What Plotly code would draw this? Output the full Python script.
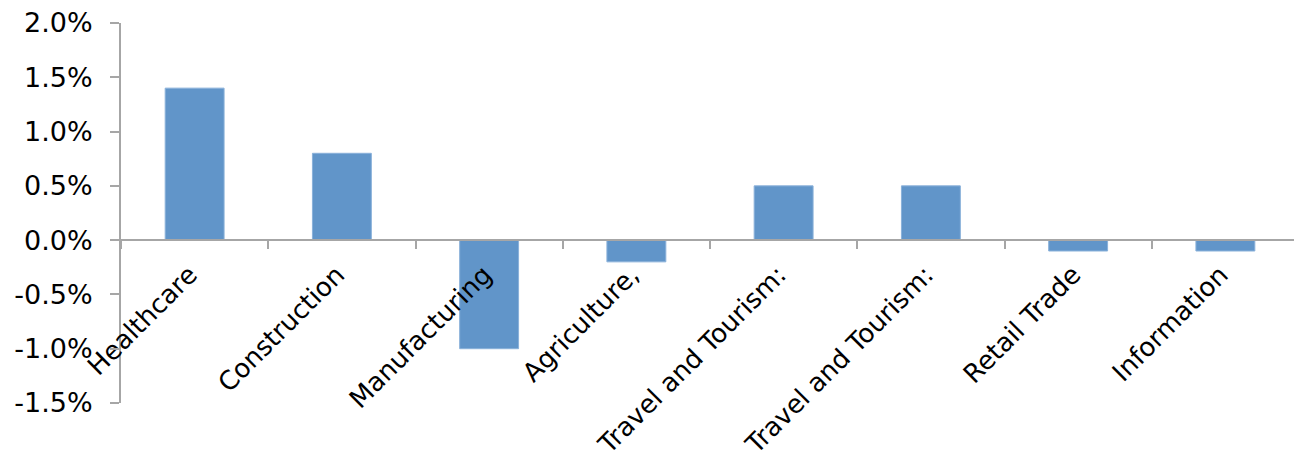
import plotly.graph_objects as go

categories = ["Healthcare", "Construction", "Manufacturing", "Agriculture,",
              "Travel and Tourism:", "Travel and Tourism:", "Retail Trade", "Information"]
values = [1.4, 0.8, -1.0, -0.2, 0.5, 0.5, -0.1, -0.1]
y_ticks = [-1.5, -1.0, -0.5, 0.0, 0.5, 1.0, 1.5, 2.0]
y_tick_labels = ["-1.5%", "-1.0%", "-0.5%", "0.0%", "0.5%", "1.0%", "1.5%", "2.0%"]

keys = [f"c{i}" for i in range(len(categories))]
ymin, ymax = -1.5, 2.0

fig = go.Figure(go.Bar(
    x=keys, y=values,
    marker=dict(color="#6195C9", line=dict(color="#8AB1DA", width=1)),
))

axis_color = "#A6A6A6"
yfont = dict(family="DejaVu Sans, Verdana, sans-serif", size=27, color="#000000")
xfont = dict(family="DejaVu Sans, Verdana, sans-serif", size=26, color="#000000")

# page body has an 8px default margin; compensate so the plot area lands
# where the reference has it
fig.update_layout(
    width=1294, height=452,
    margin=dict(l=113, r=3, t=15, b=57),
    paper_bgcolor="white", plot_bgcolor="white",
    bargap=0.6, showlegend=False,
    font=xfont,
    xaxis=dict(
        type="category", automargin=False,
        tickmode="array", tickvals=keys, ticktext=categories,
        tickson="boundaries",
        ticks="outside", ticklen=8, tickwidth=2, tickcolor=axis_color,
        showline=True, linecolor=axis_color, linewidth=2,
        showgrid=False, zeroline=False,
        tickangle=-45, tickfont=xfont,
        ticklabelshift=-5, ticklabelstandoff=8,
        ticklabeloverflow="allow",
        anchor="free", position=(0 - ymin) / (ymax - ymin),
    ),
    yaxis=dict(
        range=[ymin, ymax], automargin=False,
        tickmode="array", tickvals=y_ticks, ticktext=y_tick_labels,
        ticks="outside", ticklen=9, tickwidth=2, tickcolor=axis_color,
        showline=True, linecolor=axis_color, linewidth=2,
        showgrid=False, zeroline=False,
        tickfont=yfont, ticklabelstandoff=12,
        ticklabeloverflow="allow",
    ),
)

fig.write_html("out.html")
